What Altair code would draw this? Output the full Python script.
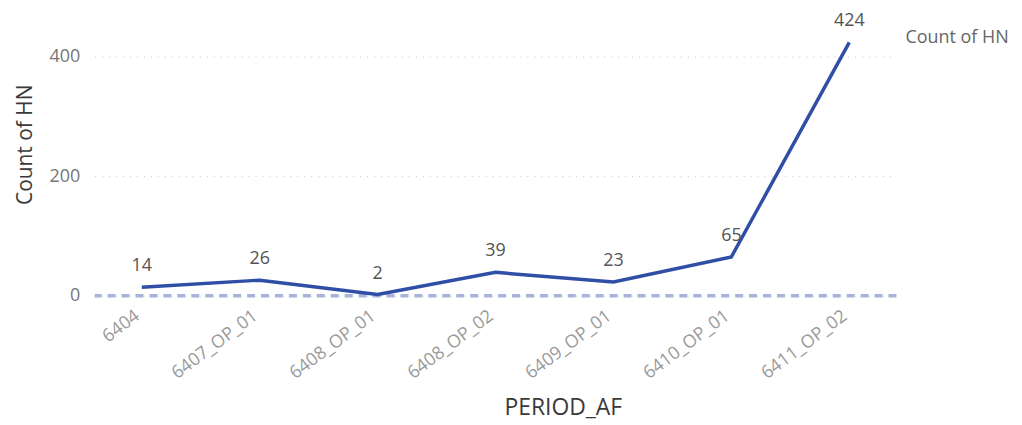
import altair as alt
import pandas as pd

periods = ["6404", "6407_OP_01", "6408_OP_01", "6408_OP_02", "6409_OP_01", "6410_OP_01", "6411_OP_02"]
counts = [14, 26, 2, 39, 23, 65, 424]
y_ticks = [0, 200, 400]

df = pd.DataFrame({"PERIOD_AF": periods, "Count of HN": counts})

FONT = "Open Sans"
LINE = "#2f4ea6"

x_enc = alt.X("PERIOD_AF:N", sort=periods,
              scale=alt.Scale(type="point", padding=0.4),
              axis=alt.Axis(labelAngle=-37, labelFontSize=18, labelColor="#9a9a9a",
                            labelFont=FONT, domain=False, ticks=False, labelPadding=11,
                            labelOffset=-10,
                            title="PERIOD_AF", titleFont=FONT, titleFontSize=23,
                            titleFontWeight="normal", titleColor="#3a3a3a",
                            titleX=470, titleY=112, titleAlign="center",
                            titleBaseline="middle"))
y_enc = alt.Y("Count of HN:Q", scale=alt.Scale(domain=[0, 450], nice=False),
              axis=alt.Axis(values=y_ticks, labelFontSize=18, labelColor="#777777",
                            labelFont=FONT, domain=False, ticks=False, labelPadding=15,
                            grid=True, gridDash=[1, 6], gridColor="#c4c4c4", gridWidth=1,
                            title="Count of HN", titleFont=FONT, titleFontSize=21,
                            titleFontWeight="normal", titleColor="#3a3a3a",
                            titleX=-69, titleY=118, titleAngle=-90,
                            titleAlign="center", titleBaseline="middle"))

base = alt.Chart(df)

zero = alt.Chart(pd.DataFrame({"y": [0]})).mark_rule(
    color="#a7b3da", strokeWidth=3.5, strokeDash=[8, 6]
).encode(y=alt.Y("y:Q"))

line = base.mark_line(color=LINE, strokeWidth=3.5).encode(x=x_enc, y=y_enc)

labels = base.mark_text(dy=-21, fontSize=18, color="#555555", font=FONT).encode(
    x=alt.X("PERIOD_AF:N", sort=periods), y="Count of HN:Q", text="Count of HN:Q")

series_label = alt.Chart(pd.DataFrame({"t": ["Count of HN"]})).mark_text(
    align="left", baseline="middle", fontSize=18, color="#666666", font=FONT
).encode(x=alt.value(814), y=alt.value(11), text="t:N")

chart = alt.layer(zero, line, labels, series_label).properties(
    width=805, height=270,
    autosize=alt.AutoSizeParams(type="none"),
    padding={"left": 87, "top": 18, "right": 118, "bottom": 128},
).configure(font=FONT).configure_view(strokeWidth=0, stroke="transparent")

chart.save("out.html", embed_options={"renderer": "svg", "actions": False})
